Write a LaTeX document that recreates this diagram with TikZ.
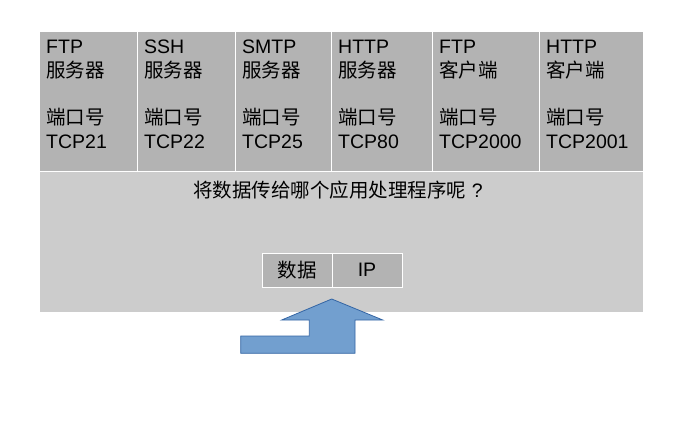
\documentclass[tikz,border=0pt]{standalone}
\usepackage{fontspec}
\setmainfont{Liberation Sans}
\newfontfamily\cjk{Noto Sans CJK SC}
\usepackage{xcolor}
\usetikzlibrary{positioning}
\definecolor{portgray}{HTML}{B3B3B3}
\definecolor{askgray}{HTML}{CCCCCC}
\definecolor{arrowblue}{HTML}{729FCF}
\definecolor{arrowedge}{HTML}{3465A4}

\begin{document}
\begin{tikzpicture}[
    x=1pt, y=-1pt,
    node distance=0pt,
    cell/.style={draw=white, line width=0.8pt, fill=portgray, minimum height=140pt, minimum width=#1, inner sep=0pt, outer sep=0pt},
    celltext/.style={anchor=north west, align=left, inner sep=0pt, font=\fontsize{19.5}{23.7}\selectfont},
    area/.style={draw=white, line width=0.8pt, fill=askgray, minimum width=604pt, minimum height=141pt, inner sep=0pt, outer sep=0pt},
    pdu/.style={draw=white, line width=0.8pt, fill=portgray, minimum width=70pt, minimum height=34pt, inner sep=0pt, outer sep=0pt, font=\fontsize{19.5}{22}\selectfont},
    bigarrow/.style={fill=arrowblue, draw=arrowedge, line width=0.8pt},
]
\useasboundingbox (0,0) rectangle (677,422);
% port table
\node[cell=98pt, anchor=north west] (ftpsrv) at (39,31) {};
\node[cell=98pt, right=of ftpsrv] (sshsrv) {};
\node[cell=96pt, right=of sshsrv] (smtpsrv) {};
\node[cell=101pt, right=of smtpsrv] (httpsrv) {};
\node[cell=107pt, right=of httpsrv] (ftpcli) {};
\node[cell=104pt, right=of ftpcli] (httpcli) {};
\node[celltext] (ftpsrvtext) at ([xshift=7pt, yshift=-9pt]ftpsrv.north west) {FTP\\{\cjk 服务器}\\[23.7pt]{\cjk 端口号}\\TCP21};
\node[celltext] (sshsrvtext) at ([xshift=7pt, yshift=-9pt]sshsrv.north west) {SSH\\{\cjk 服务器}\\[23.7pt]{\cjk 端口号}\\TCP22};
\node[celltext] (smtpsrvtext) at ([xshift=7pt, yshift=-9pt]smtpsrv.north west) {SMTP\\{\cjk 服务器}\\[23.7pt]{\cjk 端口号}\\TCP25};
\node[celltext] (httpsrvtext) at ([xshift=7pt, yshift=-9pt]httpsrv.north west) {HTTP\\{\cjk 服务器}\\[23.7pt]{\cjk 端口号}\\TCP80};
\node[celltext] (ftpclitext) at ([xshift=7pt, yshift=-9pt]ftpcli.north west) {FTP\\{\cjk 客户端}\\[23.7pt]{\cjk 端口号}\\TCP2000};
\node[celltext] (httpclitext) at ([xshift=7pt, yshift=-9pt]httpcli.north west) {HTTP\\{\cjk 客户端}\\[23.7pt]{\cjk 端口号}\\TCP2001};
% lower area
\node[area, anchor=north west] (ask) at (ftpsrv.south west) {};
\node[font=\fontsize{19.5}{22}\selectfont] (question) at (338,190) {{\cjk 将数据传给哪个应用处理程序呢} ?};
% packet
\node[pdu, anchor=north west] (data) at (262,253) {\cjk 数据};
\node[pdu, right=of data] (ip) {IP};
% arrow
\draw[bigarrow] (240.7,336) -- (309.3,336) -- (309.3,320) -- (281.7,320) -- (331.7,299)
    -- (382.7,320) -- (355,320) -- (355,353.3) -- (240.7,353.3) -- cycle;
\end{tikzpicture}
\end{document}
